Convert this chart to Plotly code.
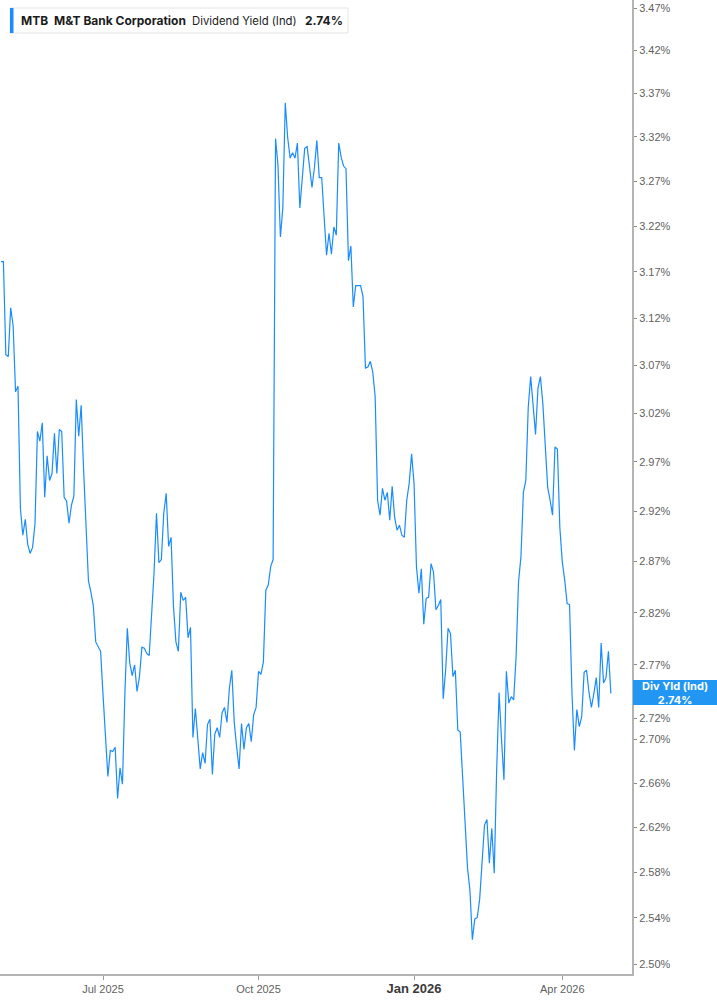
import pandas as pd
import plotly.graph_objects as go

# ---- data -------------------------------------------------------------
TICKER = "MTB"
COMPANY = "M&amp;T Bank Corporation"
METRIC = "Dividend Yield (Ind)"
LAST_LABEL = "2.74%"

HOLIDAYS = ["2025-05-26", "2025-06-19", "2025-07-04", "2025-09-01", "2025-11-27",
            "2025-12-25", "2026-01-01", "2026-01-19", "2026-02-16", "2026-04-03"]
START_DATE = "2025-04-30"
END_DATE = "2026-04-30"

div_yield = [
    3.181, 3.181, 3.081, 3.079, 3.131, 3.112, 3.042, 3.048, 2.923, 2.896,
    2.912, 2.887, 2.878, 2.884, 2.907, 3.001, 2.991, 3.010, 2.934, 2.976,
    2.951, 2.958, 2.999, 2.958, 3.003, 3.001, 2.934, 2.930, 2.908, 2.926,
    2.935, 3.034, 2.996, 3.028, 2.962, 2.901, 2.851, 2.840, 2.827, 2.792,
    2.787, 2.783, 2.742, 2.698, 2.666, 2.690, 2.689, 2.693, 2.646, 2.674,
    2.659, 2.743, 2.805, 2.772, 2.760, 2.770, 2.745, 2.759, 2.787, 2.786,
    2.781, 2.779, 2.820, 2.859, 2.918, 2.869, 2.872, 2.918, 2.938, 2.885,
    2.894, 2.826, 2.792, 2.783, 2.840, 2.832, 2.835, 2.796, 2.806, 2.702,
    2.729, 2.697, 2.673, 2.688, 2.678, 2.714, 2.719, 2.668, 2.705, 2.711,
    2.702, 2.725, 2.730, 2.716, 2.748, 2.765, 2.716, 2.693, 2.673, 2.715,
    2.691, 2.711, 2.715, 2.698, 2.723, 2.730, 2.764, 2.761, 2.773, 2.842,
    2.847, 2.865, 2.872, 3.318, 3.288, 3.208, 3.240, 3.359, 3.319, 3.296,
    3.302, 3.296, 3.313, 3.240, 3.279, 3.307, 3.309, 3.285, 3.263, 3.285,
    3.316, 3.274, 3.274, 3.230, 3.188, 3.212, 3.189, 3.219, 3.210, 3.313,
    3.297, 3.287, 3.284, 3.182, 3.198, 3.132, 3.155, 3.155, 3.155, 3.143,
    3.067, 3.068, 3.074, 3.063, 3.037, 2.931, 2.916, 2.943, 2.931, 2.939,
    2.911, 2.945, 2.914, 2.901, 2.906, 2.896, 2.894, 2.931, 2.948, 2.978,
    2.948, 2.865, 2.839, 2.863, 2.809, 2.834, 2.835, 2.868, 2.860, 2.823,
    2.827, 2.833, 2.738, 2.765, 2.805, 2.800, 2.759, 2.765, 2.709, 2.707,
    2.663, 2.629, 2.584, 2.564, 2.521, 2.539, 2.540, 2.556, 2.591, 2.622,
    2.627, 2.588, 2.619, 2.579, 2.672, 2.744, 2.700, 2.663, 2.764, 2.734,
    2.740, 2.737, 2.778, 2.850, 2.875, 2.939, 2.951, 3.026, 3.058, 3.026,
    2.998, 3.046, 3.058, 3.030, 2.992, 2.944, 2.931, 2.916, 2.985, 2.983,
    2.904, 2.870, 2.852, 2.829, 2.828, 2.743, 2.690, 2.728, 2.712, 2.721,
    2.763, 2.765, 2.744, 2.730, 2.743, 2.758, 2.730, 2.791, 2.753, 2.758,
    2.783, 2.743,
]

y_tick_values = [2.50, 2.54, 2.58, 2.62, 2.66, 2.70, 2.72, 2.77, 2.82, 2.87, 2.92,
                 2.97, 3.02, 3.07, 3.12, 3.17, 3.22, 3.27, 3.32, 3.37, 3.42, 3.47]
x_tick_dates = ["2025-07-01", "2025-10-01", "2026-01-02", "2026-04-01"]
x_tick_labels = ["Jul 2025", "Oct 2025", "Jan 2026", "Apr 2026"]

# ---- build --------------------------------------------------------------
dates = pd.bdate_range(START_DATE, END_DATE, freq="C", holidays=HOLIDAYS)
n = min(len(dates), len(div_yield))
dates = dates[:n]
vals = div_yield[:n]

LINE = "#1a8cff"
BOX = "#2196f3"
AXIS = "#b4b4b4"
TXT = "#5f5f5f"
TICKFONT = "Liberation Sans, Arial, sans-serif"

fig = go.Figure()
fig.add_trace(go.Scatter(x=dates, y=vals, mode="lines",
                         line=dict(color=LINE, width=1.2), hoverinfo="skip",
                         showlegend=False))

xt = []
for lab in x_tick_labels:
    if lab.startswith("Jan"):
        xt.append("<span style='font-size:13px;color:#3a3a3a'><b>%s</b></span>" % lab)
    else:
        xt.append(lab)

W, H = 717, 1005
ML, MR, MT, MB = 0, 85, 0, 31
PW, PH = W - ML - MR, H - MT - MB

fig.update_layout(
    width=W, height=H,
    margin=dict(l=ML, r=MR, t=MT, b=MB, pad=0),
    paper_bgcolor="white", plot_bgcolor="white",
    font=dict(family=TICKFONT, size=11, color=TXT),
    xaxis=dict(
        type="date",
        range=["2025-04-29 14:24", "2026-05-12 16:48"],
        rangebreaks=[dict(bounds=["sat", "mon"]), dict(values=HOLIDAYS)],
        tickmode="array", tickvals=x_tick_dates, ticktext=xt,
        showgrid=False, zeroline=False,
        showline=True, linecolor=AXIS, linewidth=2,
        ticks="outside", ticklen=4, tickcolor="#9a9a9a", tickwidth=1,
        tickfont=dict(size=11, color=TXT, family=TICKFONT),
        fixedrange=True,
    ),
    yaxis=dict(
        type="log", side="right",
        range=[0.39645, 0.54153],
        tickmode="array", tickvals=y_tick_values,
        ticktext=["%.2f%%" % v for v in y_tick_values],
        showgrid=False, zeroline=False,
        showline=True, linecolor=AXIS, linewidth=2,
        ticks="outside", ticklen=3, tickcolor="#8a8a8a", tickwidth=1,
        tickfont=dict(size=11, color=TXT, family=TICKFONT),
        fixedrange=True,
    ),
)

def px_x(p):
    return (p - ML) / PW

def px_y(p):
    return 1 - (p - MT) / PH

# legend header box
fig.add_shape(type="rect", xref="paper", yref="paper",
              x0=px_x(10), x1=px_x(348), y0=px_y(33), y1=px_y(8),
              line=dict(color="#e4e4e4", width=1), fillcolor="white", layer="above")
fig.add_shape(type="rect", xref="paper", yref="paper",
              x0=px_x(10), x1=px_x(13.5), y0=px_y(33), y1=px_y(8),
              line=dict(width=0), fillcolor=LINE, layer="above")

hdr_font = dict(family="Inter, Roboto, sans-serif", size=12, color="#1c1c1c")
for xpix, txt, fs in [(19, "<b>%s</b>" % TICKER, 12), (52, "<b>%s</b>" % COMPANY, 12),
                      (190, METRIC, 11.3), (303, "<b>%s</b>" % LAST_LABEL, 12)]:
    f = dict(hdr_font)
    f["size"] = fs
    fig.add_annotation(xref="paper", yref="paper", x=px_x(xpix), y=px_y(20.5),
                       xanchor="left", yanchor="middle", text=txt,
                       showarrow=False, font=f)

# last value label on the axis
fig.add_shape(type="rect", xref="paper", yref="paper",
              x0=px_x(633), x1=px_x(717), y0=px_y(705), y1=px_y(680),
              line=dict(width=0), fillcolor=BOX, layer="above")
fig.add_annotation(xref="paper", yref="paper", x=px_x(675), y=px_y(692.5),
                   xanchor="center", yanchor="middle",
                   text="<b>Div Yld (Ind)</b><br><b>%s</b>" % LAST_LABEL,
                   showarrow=False,
                   font=dict(family="Inter, Roboto, sans-serif", size=11, color="white"))

fig.write_html("out.html",
               config={"displayModeBar": False, "staticPlot": True},
               post_script="document.body.style.margin='0px';document.body.style.overflow='hidden';")
